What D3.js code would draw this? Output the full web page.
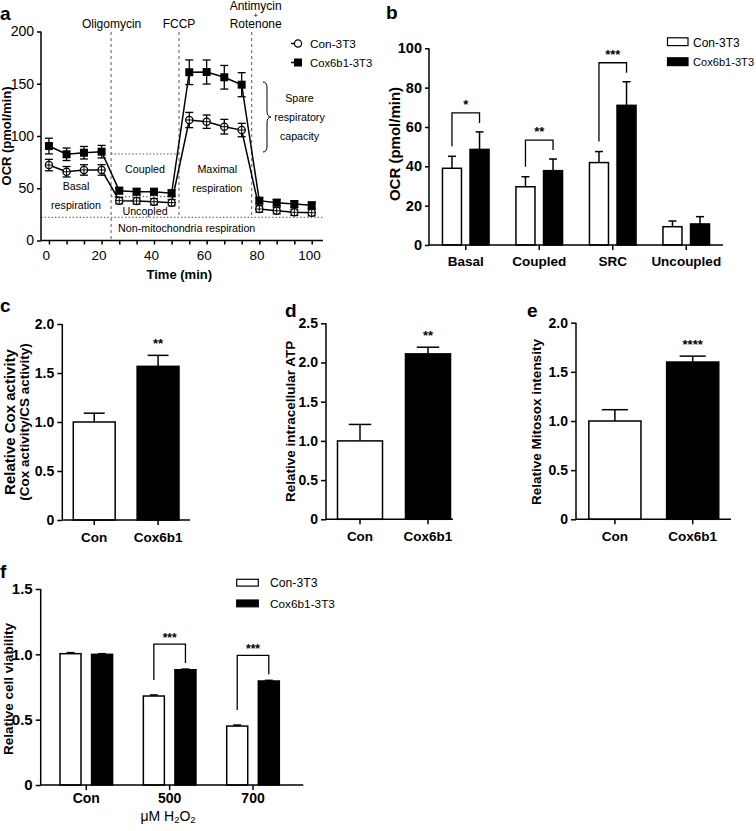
<!DOCTYPE html>
<html><head><meta charset="utf-8">
<script src="https://cdn.jsdelivr.net/npm/d3@7"></script>
<style>body{margin:0;background:#fff} svg{display:block} text{font-family:"Liberation Sans",Arial,sans-serif;fill:#000}</style>
</head><body><svg id="c" width="756" height="831"></svg>
<script>
// ---------- DATA ----------
// panel a : OCR time course
const times   = [1.0, 7.7, 14.3, 21.0, 27.7, 34.3, 40.9, 47.6, 54.3, 60.9, 67.6, 74.2, 80.9, 87.5, 94.2, 100.8];
const conOCR  = [72.2, 65.8, 67.5, 67.5, 38.1, 37.8, 37.1, 36.2, 115.3, 113.7, 108.9, 105.7, 30.1, 28.5, 27.0, 26.6];
const conErr  = [5.5, 5, 5, 5, 3, 3, 3, 3, 7.3, 6.4, 7, 6.4, 3, 3, 3, 3];
const coxOCR  = [90.4, 82.5, 84.0, 85.0, 47.7, 46.7, 46.7, 45.2, 161.0, 161.2, 156.2, 149.1, 38.1, 36.2, 34.9, 33.7];
const coxErr  = [7.5, 6, 6, 6, 3, 3, 3, 3, 11.8, 11.5, 11.3, 11.5, 3, 3, 3, 3];
const injections = ["Oligomycin", "FCCP", "Antimycin\n+\nRotenone"];
const injectTimes = [24.6, 50.4, 78.0];
const aXTicks = [0, 20, 40, 60, 80, 100];
const aYTicks = [0, 50, 100, 150, 200];
const seriesNames = ["Con-3T3", "Cox6b1-3T3"];

// panel b
const ocrGroups = ["Basal", "Coupled", "SRC", "Uncoupled"];
const ocrCon    = [39.0, 29.6, 41.9, 9.3];
const ocrConErr = [6.1, 5.1, 5.6, 2.9];
const ocrCox    = [48.6, 37.8, 71.0, 10.7];
const ocrCoxErr = [8.9, 5.9, 12.0, 3.7];
const ocrSig    = ["*", "**", "***", ""];
const bYTicks   = [0, 20, 40, 60, 80, 100];

// panels c, d, e
const pairCats  = ["Con", "Cox6b1"];
const coxAct    = [1.0, 1.568], coxActErr = [0.09, 0.112];
const atp       = [1.0, 2.11],  atpErr    = [0.21, 0.085];
const mitosox   = [1.0, 1.60],  mitosoxErr= [0.115, 0.06];
const cSig = "**", dSig = "**", eSig = "****";

// panel f
const doseGroups = ["Con", "500", "700"];
const viaCon     = [1.005, 0.681, 0.451];
const viaConErr  = [0.008, 0.008, 0.008];
const viaCox     = [1.0, 0.882, 0.796];
const viaCoxErr  = [0.005, 0.005, 0.005];
const viaSig     = ["", "***", "***"];

// ---------- DRAWING ----------
const svg = d3.select("#c");
svg.append("rect").attr("width",756).attr("height",831).attr("fill","#fff");

function txt(g, x, y, s, o = {}) {
  const t = g.append("text").attr("x", x).attr("y", y).text(s)
    .attr("font-size", o.size || 12)
    .attr("font-weight", o.bold ? "bold" : "normal")
    .attr("text-anchor", o.anchor || "middle");
  if (o.rotate) t.attr("transform", `rotate(-90,${x},${y})`);
  return t;
}
function line(g, x1, y1, x2, y2, w = 1.5, dash = null, col = "#000") {
  const l = g.append("line").attr("x1", x1).attr("y1", y1).attr("x2", x2).attr("y2", y2)
    .attr("stroke", col).attr("stroke-width", w);
  if (dash) l.attr("stroke-dasharray", dash);
  return l;
}
function styleAxis(g, size, bold) {
  g.select(".domain").remove();
  g.selectAll(".tick line").attr("stroke", "#000").attr("stroke-width", 1.5);
  g.selectAll(".tick text").attr("font-size", size).attr("font-weight", bold ? "bold" : "normal")
    .attr("fill", "#000").style("font-family", '"Liberation Sans",Arial,sans-serif');
}
const fmt1 = d => d === 0 ? "0" : d3.format(".1f")(d);

// ===== Panel a =====
{
  const g = svg.append("g");
  const x = d3.scaleLinear().domain([0, 100]).range([46.3, 309.6]);
  const y = d3.scaleLinear().domain([0, 200]).range([240.5, 31.5]);
  const x0 = 41, xEnd = 323;

  // reference lines
  const dotted = "1.5,2";
  line(g, x0, y(22.2), xEnd, y(22.2), 1, dotted, "#555");
  line(g, x(injectTimes[0]), y(82.8), x(injectTimes[1]), y(82.8), 1, dotted, "#555");
  line(g, x(injectTimes[0]), y(41.9), x(47.6) + 4, y(41.9), 1, dotted, "#555");
  injectTimes.forEach((t, i) => {
    line(g, x(t), 32, x(t), i === 0 ? y(0) : y(22.2), 1.1, "3,3", "#666");
  });
  // injection labels
  txt(g, x(injectTimes[0]) + 0.5, 27.5, injections[0], {size: 12});
  txt(g, x(injectTimes[1]), 27.5, injections[1], {size: 12});
  const inj3 = injections[2].split("\n");
  txt(g, x(injectTimes[2]) + 4, 9.5, inj3[0], {size: 12});
  txt(g, x(injectTimes[2]) + 4, 17.5, inj3[1], {size: 7.5});
  txt(g, x(injectTimes[2]) + 4, 28, inj3[2], {size: 12});

  // annotations
  const an = 10.7;
  txt(g, 76, 189.5, "Basal", {size: an});
  txt(g, 76, 208.5, "respiration", {size: an});
  txt(g, 145, 173, "Coupled", {size: an});
  txt(g, 145, 214.5, "Uncopled", {size: an});
  txt(g, 217.3, 173, "Maximal", {size: an});
  txt(g, 217.3, 192, "respiration", {size: an});
  txt(g, 186.7, 232, "Non-mitochondria respiration", {size: an});
  txt(g, 299.5, 102, "Spare", {size: an});
  txt(g, 299.5, 120.5, "respiratory", {size: an});
  txt(g, 299.5, 139.5, "capacity", {size: an});
  g.append("path").attr("fill", "none").attr("stroke", "#000").attr("stroke-width", 1)
    .attr("d", "M263,82 Q267,82 267,88 L267,111 Q267,117 271,117 Q267,117 267,123 L267,146 Q267,152 263,152");

  // axes
  line(g, x0, y(0), x0, y(200));
  line(g, x0, y(0), xEnd, y(0));
  const ya = g.append("g").attr("transform", `translate(${x0},0)`)
    .call(d3.axisLeft(y).tickValues(aYTicks).tickSize(4).tickPadding(3));
  styleAxis(ya, 14, false);
  const xa = g.append("g").attr("transform", `translate(0,${y(0)})`)
    .call(d3.axisBottom(x).tickValues(times).tickSize(4).tickFormat(""));
  styleAxis(xa, 13, false);
  aXTicks.forEach(v => txt(g, x(v), 260, String(v), {size: 13.5}));
  txt(g, 179.3, 278.5, "Time (min)", {size: 13, bold: true});
  txt(g, 10.5, 136, "OCR (pmol/min)", {size: 13, bold: true, rotate: true});

  // series
  const ln = d3.line().x((d, i) => x(times[i])).y(d => y(d));
  [[conOCR, conErr], [coxOCR, coxErr]].forEach(([vals, errs], s) => {
    g.append("path").datum(vals).attr("d", ln).attr("fill", "none").attr("stroke", "#000").attr("stroke-width", 1.5);
    vals.forEach((v, i) => {
      const cx = x(times[i]);
      line(g, cx, y(v - errs[i]), cx, y(v + errs[i]), 1.3);
      line(g, cx - 4, y(v + errs[i]), cx + 4, y(v + errs[i]), 1.3);
      line(g, cx - 4, y(v - errs[i]), cx + 4, y(v - errs[i]), 1.3);
    });
  });
  conOCR.forEach((v, i) => {
    const cx = x(times[i]), cy = y(v);
    g.append("circle").attr("cx", cx).attr("cy", cy).attr("r", 3.6)
      .attr("fill", "#fff").attr("stroke", "#000").attr("stroke-width", 1.3);
    line(g, cx, cy - 3.6, cx, cy + 3.6, 1);
    line(g, cx - 3.6, cy, cx + 3.6, cy, 1);
  });
  coxOCR.forEach((v, i) => {
    g.append("rect").attr("x", x(times[i]) - 4).attr("y", y(v) - 4).attr("width", 8).attr("height", 8).attr("fill", "#000");
  });
  // legend
  line(g, 291, 43.5, 302, 43.5, 1.5);
  g.append("circle").attr("cx", 298).attr("cy", 43.5).attr("r", 3.6).attr("fill", "#fff").attr("stroke", "#000").attr("stroke-width", 1.3);
  txt(g, 310, 47.5, seriesNames[0], {size: 11.8, anchor: "start"});
  line(g, 291, 62.5, 302, 62.5, 1.5);
  g.append("rect").attr("x", 294).attr("y", 58.5).attr("width", 8).attr("height", 8).attr("fill", "#000");
  txt(g, 310, 67, seriesNames[1], {size: 11.3, anchor: "start"});
  txt(g, 0, 20, "a", {size: 19, bold: true, anchor: "start"});
}

// generic grouped-bar helper
function barPair(g, xc, bw, yScale, vals, errs, capW) {
  vals.forEach((v, i) => {
    const bx = xc[i];
    line(g, bx + bw / 2, yScale(v), bx + bw / 2, yScale(v + errs[i]), 1.5);
    line(g, bx + bw / 2 - capW / 2, yScale(v + errs[i]), bx + bw / 2 + capW / 2, yScale(v + errs[i]), 1.5);
  });
}

// ===== Panel b =====
{
  const g = svg.append("g");
  const y = d3.scaleLinear().domain([0, 100]).range([245, 48.3]);
  const xo = d3.scaleBand().domain(ocrGroups).range([429, 723]).padding(0);
  const st = xo.step();
  const xi = d3.scaleBand().domain(seriesNames).range([st / 2 - 23.3, st / 2 + 23.3]).paddingInner(0.31);
  const bw = xi.bandwidth();
  const series = [[ocrCon, ocrConErr, "#fff"], [ocrCox, ocrCoxErr, "#000"]];
  series.forEach(([vals, errs, col], s) => {
    const xs = ocrGroups.map(gr => xo(gr) + xi(seriesNames[s]));
    barPair(g, xs, bw, y, vals, errs, 8);
    vals.forEach((v, i) => {
      g.append("rect").attr("x", xs[i]).attr("y", y(v)).attr("width", bw).attr("height", y(0) - y(v))
        .attr("fill", col).attr("stroke", "#000").attr("stroke-width", 1.5);
    });
  });
  // significance brackets
  ocrGroups.forEach((gr, i) => {
    if (!ocrSig[i]) return;
    const xl = xo(gr) + xi(seriesNames[0]) + bw / 2, xr = xo(gr) + xi(seriesNames[1]) + bw / 2;
    const yl = y(ocrCon[i] + ocrConErr[i]) - 10, yr = y(ocrCox[i] + ocrCoxErr[i]) - 9;
    const yt = y(ocrCox[i] + ocrCoxErr[i]) - 19;
    g.append("path").attr("fill", "none").attr("stroke", "#000").attr("stroke-width", 1.3)
      .attr("d", `M${xl},${yl} L${xl},${yt} L${xr},${yt} L${xr},${yr}`);
    txt(g, (xl + xr) / 2, yt - 4, ocrSig[i], {size: 13, bold: true});
  });
  line(g, 429, y(0), 429, y(100));
  line(g, 429, y(0), 723, y(0));
  const ya = g.append("g").attr("transform", "translate(429,0)")
    .call(d3.axisLeft(y).tickValues(bYTicks).tickSize(4).tickPadding(3));
  styleAxis(ya, 14.5, true);
  const xa = g.append("g").attr("transform", `translate(0,${y(0)})`)
    .call(d3.axisBottom(xo).tickSize(5).tickPadding(6.5));
  styleAxis(xa, 13.5, true);
  txt(g, 400, 144, "OCR (pmol/min)", {size: 15, bold: true, rotate: true});
  // legend
  g.append("rect").attr("x", 667.5).attr("y", 37.8).attr("width", 20.5).attr("height", 7.8).attr("fill", "#fff").attr("stroke", "#000").attr("stroke-width", 1.2);
  txt(g, 693, 46.5, seriesNames[0], {size: 12, anchor: "start"});
  g.append("rect").attr("x", 667.5).attr("y", 57.8).attr("width", 20.5).attr("height", 7.8).attr("fill", "#000").attr("stroke", "#000").attr("stroke-width", 1.2);
  txt(g, 693, 66, seriesNames[1], {size: 11.1, anchor: "start"});
  txt(g, 386, 19, "b", {size: 19, bold: true, anchor: "start"});
}

// ===== Panels c, d, e =====
function simplePanel(o) {
  const g = svg.append("g");
  const y = d3.scaleLinear().domain([0, o.max]).range([o.y0, o.yTop]);
  const x = d3.scaleBand().domain(pairCats).range([o.x0, o.x1]).paddingInner(o.pad).paddingOuter(o.pad / 2);
  const bw = x.bandwidth();
  const xs = pairCats.map(c => x(c));
  barPair(g, xs, bw, y, o.vals, o.errs, bw * 0.5);
  o.vals.forEach((v, i) => {
    g.append("rect").attr("x", xs[i]).attr("y", y(v)).attr("width", bw).attr("height", y(0) - y(v))
      .attr("fill", i === 0 ? "#fff" : "#000").attr("stroke", "#000").attr("stroke-width", 1.5);
  });
  txt(g, xs[1] + bw / 2, y(o.vals[1] + o.errs[1]) - 7, o.sig, {size: 13, bold: true});
  line(g, o.x0, y(0), o.x0, y(o.max));
  line(g, o.x0, y(0), o.axEnd, y(0));
  const ticks = d3.range(0, o.max + 0.01, 0.5);
  const ya = g.append("g").attr("transform", `translate(${o.x0},0)`)
    .call(d3.axisLeft(y).tickValues(ticks).tickFormat(fmt1).tickSize(5).tickPadding(3));
  styleAxis(ya, 14, true);
  const xa = g.append("g").attr("transform", `translate(0,${y(0)})`)
    .call(d3.axisBottom(x).tickSize(5).tickPadding(7));
  styleAxis(xa, 13.5, true);
  o.labels.forEach((l, i) => txt(g, l.x, o.yc, l.t, {size: l.s, bold: true, rotate: true}));
  txt(g, o.letter[1], o.letter[2], o.letter[0], {size: 19, bold: true, anchor: "start"});
}
simplePanel({max: 2.0, y0: 520, yTop: 324, x0: 62.3, x1: 190, axEnd: 190, pad: 0.344,
  vals: coxAct, errs: coxActErr, sig: cSig, yc: 422,
  labels: [{x: 15, t: "Relative Cox activity", s: 15}, {x: 29, t: "(Cox activity/CS activity)", s: 13.5}],
  letter: ["c", 0, 312]});
simplePanel({max: 2.5, y0: 519.3, yTop: 323.3, x0: 326, x1: 462, axEnd: 453, pad: 0.338,
  vals: atp, errs: atpErr, sig: dSig, yc: 421.3,
  labels: [{x: 295.5, t: "Relative intracellular  ATP", s: 13.5}],
  letter: ["d", 285, 316.5]});
simplePanel({max: 2.0, y0: 519.3, yTop: 322.7, x0: 576, x1: 731.6, axEnd: 731, pad: 0.33,
  vals: mitosox, errs: mitosoxErr, sig: eSig, yc: 422,
  labels: [{x: 540.5, t: "Relative Mitosox intensity", s: 13.5}],
  letter: ["e", 527, 316.7]});

// ===== Panel f =====
{
  const g = svg.append("g");
  const y = d3.scaleLinear().domain([0, 1.5]).range([785, 589]);
  const xo = d3.scaleBand().domain(doseGroups).range([44.6, 294.7]).padding(0);
  const st = xo.step();
  const xi = d3.scaleBand().domain(seriesNames).range([st / 2 - 26.3, st / 2 + 26.3]).paddingInner(0.335);
  const bw = xi.bandwidth();
  [[viaCon, viaConErr, "#fff"], [viaCox, viaCoxErr, "#000"]].forEach(([vals, errs, col], s) => {
    const xs = doseGroups.map(gr => xo(gr) + xi(seriesNames[s]));
    barPair(g, xs, bw, y, vals, errs, 8);
    vals.forEach((v, i) => {
      g.append("rect").attr("x", xs[i]).attr("y", y(v)).attr("width", bw).attr("height", y(0) - y(v))
        .attr("fill", col).attr("stroke", "#000").attr("stroke-width", 1.5);
    });
  });
  doseGroups.forEach((gr, i) => {
    if (!viaSig[i]) return;
    const xl = xo(gr) + xi(seriesNames[0]) + bw / 2, xr = xo(gr) + xi(seriesNames[1]) + bw / 2;
    const yl = y(viaCon[i] + viaConErr[i]) - 15, yr = y(viaCox[i] + viaCoxErr[i]) - 6;
    const yt = y(viaCox[i] + viaCoxErr[i]) - 25;
    g.append("path").attr("fill", "none").attr("stroke", "#000").attr("stroke-width", 1.3)
      .attr("d", `M${xl},${yl} L${xl},${yt} L${xr},${yt} L${xr},${yr}`);
    txt(g, (xl + xr) / 2, yt - 2.5, viaSig[i], {size: 12, bold: true});
  });
  line(g, 40.7, y(0), 40.7, y(1.5));
  line(g, 40.7, y(0), 303.3, y(0));
  const ya = g.append("g").attr("transform", "translate(40.7,0)")
    .call(d3.axisLeft(y).tickValues([0, 0.5, 1.0, 1.5]).tickFormat(fmt1).tickSize(5).tickPadding(3));
  styleAxis(ya, 15, true);
  const xa = g.append("g").attr("transform", `translate(0,${y(0)})`)
    .call(d3.axisBottom(xo).tickSize(5).tickPadding(3));
  styleAxis(xa, 14, true);
  txt(g, 12.5, 689, "Relative cell viability", {size: 13.5, bold: true, rotate: true});
  const t = g.append("text").attr("x", 168).attr("y", 821).attr("text-anchor", "middle").attr("font-size", 14);
  t.append("tspan").text("μM H");
  t.append("tspan").text("2").attr("font-size", 9.5).attr("dy", 2);
  t.append("tspan").text("O").attr("font-size", 14).attr("dy", -2);
  t.append("tspan").text("2").attr("font-size", 9.5).attr("dy", 2);
  g.append("rect").attr("x", 236.7).attr("y", 579.3).attr("width", 21.6).attr("height", 6.8).attr("fill", "#fff").attr("stroke", "#000").attr("stroke-width", 1.2);
  txt(g, 270, 587, seriesNames[0], {size: 12.2, anchor: "start"});
  g.append("rect").attr("x", 236.7).attr("y", 600).attr("width", 21.6).attr("height", 6.8).attr("fill", "#000").attr("stroke", "#000").attr("stroke-width", 1.2);
  txt(g, 270, 608, seriesNames[1], {size: 11.8, anchor: "start"});
  txt(g, 0, 578, "f", {size: 19, bold: true, anchor: "start"});
}
</script></body></html>
